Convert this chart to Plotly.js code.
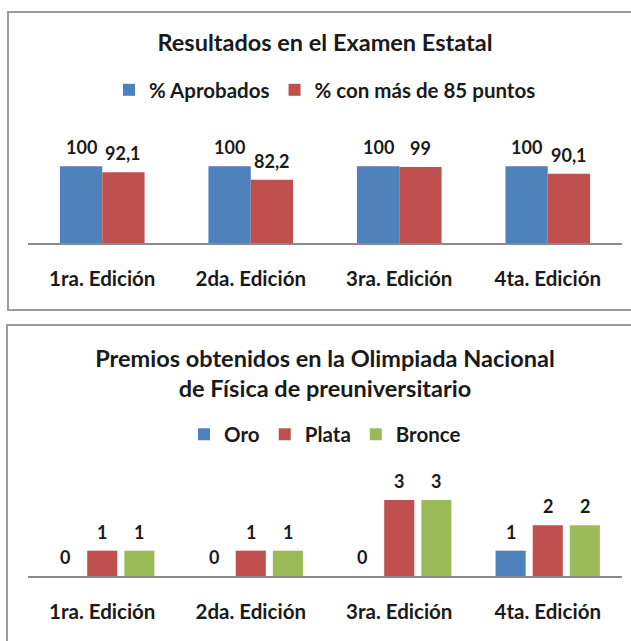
<!DOCTYPE html>
<html>
<head>
<meta charset="utf-8">
<script src="https://cdn.plot.ly/plotly-3.0.1.min.js"></script>
<style>
  html, body { margin: 0; padding: 0; background: #ffffff; width: 631px; height: 641px; overflow: hidden; }
  .box { position: absolute; border: 2px solid #9c9c9c; box-sizing: border-box; }
  .plot { position: absolute; left: 0; }
</style>
</head>
<body>
<div class="box" style="left:7px; top:11px; width:700px; height:300px;"></div>
<div class="box" style="left:6px; top:324px; width:700px; height:400px;"></div>
<div id="chart1" class="plot" style="top:0px; width:631px; height:320px;"></div>
<div id="chart2" class="plot" style="top:320px; width:631px; height:321px;"></div>
<script>
// ---- Data ----
const categories = ["1ra. Edición", "2da. Edición", "3ra. Edición", "4ta. Edición"];

const examTitle = "Resultados en el Examen Estatal";
const examSeriesNames = ["% Aprobados", "% con más de 85 puntos"];
const aprobados = [100, 100, 100, 100];
const masDe85 = [92.1, 82.2, 99, 90.1];
const aprobadosLabels = ["100", "100", "100", "100"];
const masDe85Labels = ["92,1", "82,2", "99", "90,1"];

const olympTitle = "Premios obtenidos en la Olimpiada Nacional<br>de Física de preuniversitario";
const olympSeriesNames = ["Oro", "Plata", "Bronce"];
const oro = [0, 0, 0, 1];
const plata = [1, 1, 3, 2];
const bronce = [1, 1, 3, 2];

// ---- Styles ----
const FONT = "Lato, 'Open Sans', sans-serif";
const TXT = "#1a1a1a";
const BLUE = "#4f81bd", RED = "#c0504d", GREEN = "#9bbb59";

function labelAnnotations(values, labels, xshift) {
  return values.map((v, i) => ({
    x: categories[i], y: v, xref: "x", yref: "y",
    text: labels[i], showarrow: false,
    xshift: xshift, yshift: 19, yanchor: "middle",
    font: {family: FONT, size: 18, color: TXT, weight: 700}
  }));
}

const axisX = {
  type: "category",
  showgrid: false, zeroline: false,
  showline: true, linecolor: "#8a8a8a", linewidth: 2,
  ticks: "", ticklabelstandoff: 16,
  tickfont: {family: FONT, size: 20.5, color: TXT, weight: 700},
  fixedrange: true
};

// ---- Chart 1 ----
const t1 = [
  {type: "bar", name: examSeriesNames[0], x: categories, y: aprobados, marker: {color: BLUE}, hoverinfo: "none"},
  {type: "bar", name: examSeriesNames[1], x: categories, y: masDe85, marker: {color: RED}, hoverinfo: "none"}
];
const l1 = {
  width: 631, height: 320,
  margin: {l: 28, r: 9, t: 120, b: 77},
  paper_bgcolor: "rgba(0,0,0,0)", plot_bgcolor: "rgba(0,0,0,0)",
  barmode: "group", bargap: 0.43, bargroupgap: 0,
  title: {text: examTitle, x: 0.5, xref: "paper", xanchor: "center", y: 0.866, yref: "container", yanchor: "middle",
          font: {family: FONT, size: 23.5, color: TXT, weight: 700}},
  showlegend: true,
  legend: {orientation: "h", x: 0.5, xanchor: "center", y: 1.244, yanchor: "middle",
           font: {family: FONT, size: 20.5, color: TXT, weight: 700}, itemwidth: 30, traceorder: "normal"},
  xaxis: axisX,
  yaxis: {range: [0, 160], visible: false, fixedrange: true},
  annotations: labelAnnotations(aprobados, aprobadosLabels, -21).concat(labelAnnotations(masDe85, masDe85Labels, 21))
};
Plotly.newPlot("chart1", t1, l1, {staticPlot: true, displayModeBar: false});

// ---- Chart 2 ----
const t2 = [
  {type: "bar", name: olympSeriesNames[0], x: categories, y: oro, marker: {color: BLUE}, hoverinfo: "none"},
  {type: "bar", name: olympSeriesNames[1], x: categories, y: plata, marker: {color: RED}, hoverinfo: "none"},
  {type: "bar", name: olympSeriesNames[2], x: categories, y: bronce, marker: {color: GREEN}, hoverinfo: "none"}
];
const l2 = {
  width: 631, height: 321,
  margin: {l: 28, r: 9, t: 142, b: 65},
  paper_bgcolor: "rgba(0,0,0,0)", plot_bgcolor: "rgba(0,0,0,0)",
  barmode: "group", bargap: 0.25, bargroupgap: 0.19,
  title: {text: olympTitle, x: 0.5, xref: "paper", xanchor: "center", y: 0.854, yref: "container", yanchor: "middle",
          font: {family: FONT, size: 23.5, color: TXT, weight: 700}},
  showlegend: true,
  legend: {orientation: "h", x: 0.5, xanchor: "center", y: 1.242, yanchor: "middle",
           font: {family: FONT, size: 20.5, color: TXT, weight: 700}, itemwidth: 30, traceorder: "normal"},
  xaxis: axisX,
  yaxis: {range: [0, 4.5], visible: false, fixedrange: true},
  annotations: labelAnnotations(oro, oro.map(String), -37)
    .concat(labelAnnotations(plata, plata.map(String), 0))
    .concat(labelAnnotations(bronce, bronce.map(String), 37))
};
Plotly.newPlot("chart2", t2, l2, {staticPlot: true, displayModeBar: false});
</script>
</body>
</html>
